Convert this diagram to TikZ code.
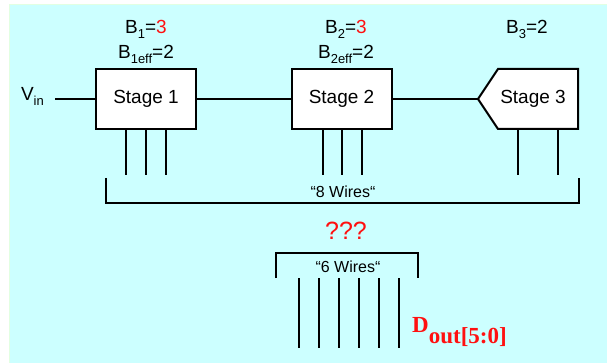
\documentclass[tikz,border=0pt]{standalone}
\usepackage{fontspec}
\setmainfont{Liberation Sans}
\newfontfamily\timesfont{Liberation Serif}
\usepackage{xcolor}
\usetikzlibrary{calc, positioning}

\definecolor{bgcyan}{HTML}{CCFFFF}
\definecolor{bggreen}{HTML}{E2FFE2}
\definecolor{qred}{HTML}{FF1010}
\newcommand{\lowtxt}[1]{\raisebox{-5pt}{\fontsize{13}{13}\selectfont #1}}

\begin{document}
\begin{tikzpicture}[x=1pt, y=-1pt,
    stagebox/.style={draw, line width=2pt, fill=white, minimum width=100pt, minimum height=60pt, font=\fontsize{19}{19}\selectfont},
    wire/.style={line width=2pt},
    lbl/.style={font=\fontsize{19}{19}\selectfont, inner sep=0pt, anchor=base}]
    \useasboundingbox (0,0) rectangle (607,363);
    % nen
    \fill[bggreen] (9,4) rectangle (607,363);
    \fill[bgcyan] (10,5) rectangle (607,363);

    % cac tang
    \node[stagebox] (s1) at (146,99) {Stage 1};
    \node[stagebox] (s2) at (341.5,99) {Stage 2};
    \coordinate (s3tip) at (478,99);
    \draw[line width=2pt, fill=white] (s3tip) -- (498,69) -- (578,69) -- (578,129) -- (498,129) -- cycle;
    \node[font=\fontsize{19}{19}\selectfont] (s3) at (533,99) {Stage 3};

    % nhan B
    \node[lbl] (b1) at (146,33.5) {B\lowtxt{1}=\textcolor{qred}{3}};
    \node[lbl] (b1e) at (146,58.5) {B\lowtxt{1eff}=2};
    \node[lbl] (b2) at (346,33.5) {B\lowtxt{2}=\textcolor{qred}{3}};
    \node[lbl] (b2e) at (346,58.5) {B\lowtxt{2eff}=2};
    \node[lbl] (b3) at (527,33.5) {B\lowtxt{3}=2};

    % dau vao
    \node[lbl, anchor=base east] (vin) at (44,101) {V\lowtxt{in}};
    \coordinate (vinend) at (55,99);
    \draw[wire] (vinend) -- (s1.west);
    \draw[wire] (s1.east) -- (s2.west);
    \draw[wire] (s2.east) -- (s3tip);

    % day ra
    \foreach \dx in {-20,0,20}
        \draw[wire] ([xshift=\dx pt]s1.south) -- ++(0,45);
    \foreach \dx in {-19,0,20}
        \draw[wire] ([xshift=\dx pt]s2.south) -- ++(0,45);
    \foreach \xx in {518,558}
        \draw[wire] (\xx,130) -- (\xx,175);

    \draw[wire] (106,178) |- (579,203) -- (579,178);
    \node[font=\fontsize{16}{16}\selectfont] (w8) at (343,192) {“8 Wires“};

    \node[text=qred, font=\fontsize{25}{25}\selectfont] (q) at (346,231) {???};

    \draw[wire] (276,278) |- (418,253) -- (418,278);
    \node[font=\fontsize{16}{16}\selectfont] (w6) at (348,267) {“6 Wires“};
    \foreach \xx in {299,319,...,399}
        \draw[wire] (\xx,278) -- (\xx,348);

    \node[anchor=base west, inner sep=0pt, text=qred, font=\timesfont\bfseries\fontsize{23}{23}\selectfont] (dout) at (412,332) {D\raisebox{-11pt}{out[5:0]}};
\end{tikzpicture}
\end{document}
